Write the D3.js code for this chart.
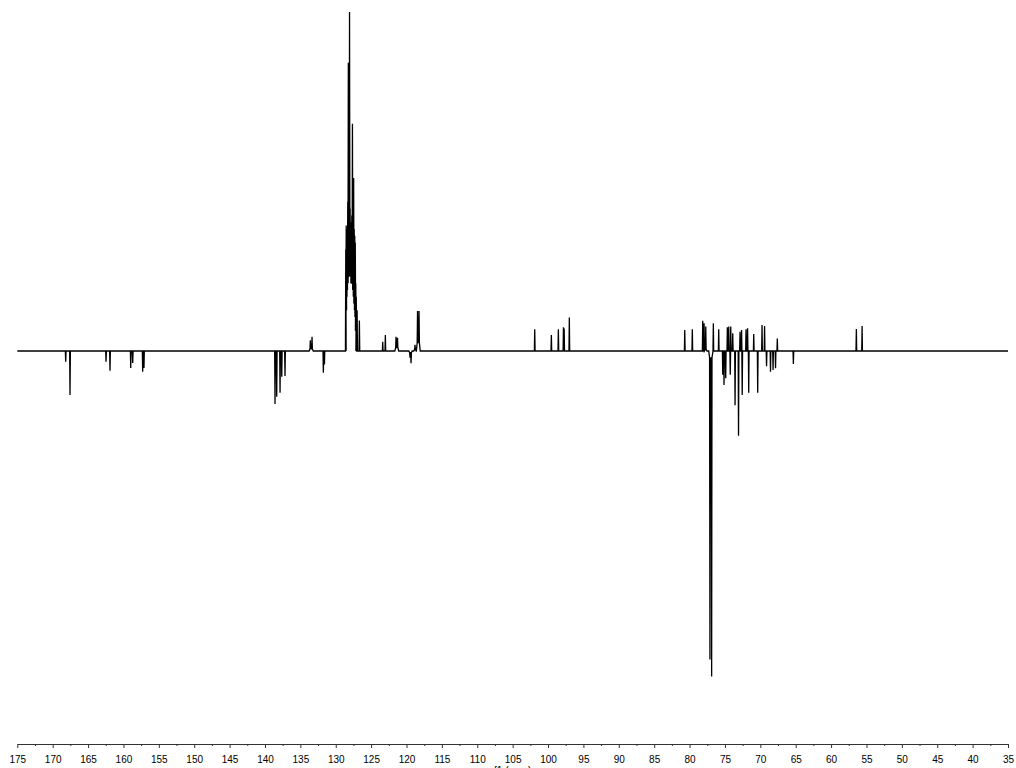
<!DOCTYPE html>
<html>
<head>
<meta charset="utf-8">
<script src="https://cdn.jsdelivr.net/npm/d3@7"></script>
<style>
  html, body { margin: 0; padding: 0; background: #fff; overflow: hidden; }
  svg { display: block; }
</style>
</head>
<body>
<svg id="chart" width="1016" height="768"></svg>
<script>
// Chemical-shift axis (ppm), labelled every 5 ppm with a minor tick in between.
const majorTicks = [175, 170, 165, 160, 155, 150, 145, 140, 135, 130, 125, 120, 115, 110,
                    105, 100, 95, 90, 85, 80, 75, 70, 65, 60, 55, 50, 45, 40, 35];
const minorTicks = [172.5, 167.5, 162.5, 157.5, 152.5, 147.5, 142.5, 137.5, 132.5, 127.5,
                    122.5, 117.5, 112.5, 107.5, 102.5, 97.5, 92.5, 87.5, 82.5, 77.5, 72.5,
                    67.5, 62.5, 57.5, 52.5, 47.5, 42.5, 37.5];
const axisTitle = "f1 (ppm)";

// Resonances: [shift (ppm), intensity, foot level]
const lowfieldPeaks = [
  [168.16, -3.2, 0], [167.55, -13, 0],
  [162.46, -3.2, 0], [161.90, -5.8, 0],
  [158.97, -5.0, 0], [158.69, -3.5, 0],
  [157.28, -6.1, 0], [157.10, -5.0, 0]
];
const aromaticPeaks = [
  [138.58, -15.6, 0], [138.34, -13.5, 0], [137.87, -12.3, 0],
  [137.63, -7.6, 0], [137.17, -7.4, 0],
  [133.59, 3.2, 0.6], [133.35, 4.2, 0.6],
  [131.75, -6.4, 0], [131.60, -4.0, 0]
];
const benzylCluster = [
  [128.58, 30, 0], [128.52, 37, 12], [128.46, 30, 16], [128.39, 36, 18], [128.30, 44, 20],
  [128.22, 85, 22], [128.14, 40, 22], [128.05, 100, 24], [127.97, 42, 24],
  [127.89, 38, 22], [127.81, 35, 20], [127.73, 40, 20], [127.64, 67, 20],
  [127.56, 36, 18], [127.47, 51, 16], [127.39, 36, 14], [127.31, 34, 12],
  [127.24, 32, 10], [127.17, 20, 6], [127.10, 16, 0], [126.98, 12, 0], [126.66, 9, 0]
];
const olefinicPeaks = [
  [123.36, 2.7, 0], [122.99, 4.7, 0],
  [121.48, 4.2, 1], [121.27, 3.9, 1],
  [119.50, -2.0, -0.5], [119.36, -3.6, -0.5],
  [118.80, 1.8, 0.5], [118.44, 11.8, 2.5], [118.23, 11.8, 2.5]
];
const anomericPeaks = [
  [101.88, 6.4, 0], [99.53, 4.7, 0], [98.54, 6.4, 0],
  [97.82, 7.0, 0], [97.72, 6.6, 0], [96.99, 9.9, 0]
];
const ringPeaks = [
  [80.68, 6.2, 0], [79.61, 6.4, 0],
  [78.14, 8.9, 0], [77.95, 8.2, 0], [77.71, 7.2, 0.5],
  [77.12, -91, -2], [76.88, -96, -2],
  [76.64, 8.2, 0], [75.88, 6.4, 0],
  [75.31, -7.0, 0], [75.13, -10, 0], [74.89, -8.0, 0],
  [74.66, 7.0, 0], [74.46, 7.2, 0], [74.25, -7.0, 0], [74.18, 7.2, 0],
  [73.90, 5.2, 0], [73.57, -16, 0], [73.08, -25, 0], [72.87, 5.7, 0],
  [72.65, 6.2, 0], [72.56, -13, 0], [72.02, 6.4, 0], [71.80, 6.7, 0],
  [71.64, -12.3, 0], [70.93, 5.0, 0], [70.37, -12.3, 0],
  [69.76, 7.7, 0], [69.40, 7.4, 0], [69.12, -4.5, 0],
  [68.56, -6.1, 0], [68.20, -5.6, 0], [67.85, -5.1, 0], [67.60, 3.7, 0],
  [65.33, -3.8, 0]
];
const methoxyPeaks = [
  [56.43, 6.5, 0], [55.62, 7.4, 0]
];

const peaks = [].concat(lowfieldPeaks, aromaticPeaks, benzylCluster, olefinicPeaks,
                        anomericPeaks, ringPeaks, methoxyPeaks)
  .sort((a, b) => b[0] - a[0]);

const svg = d3.select("#chart");

const x = d3.scaleLinear().domain([175, 35]).range([17.3, 1008]);
const y = d3.scaleLinear().domain([-100, 100]).range([690, 12]);

// Trace: flat baseline with a narrow line for each resonance; peaks that
// sit well apart drop back to the baseline between them.
const halfWidth = 0.05;
const settle = 0.12;
const trace = [[175, 0]];
peaks.forEach(([p, h, foot], i) => {
  const prev = peaks[i - 1];
  if (!prev || prev[0] - p > 0.35) trace.push([p + halfWidth + settle, 0]);
  trace.push([p + halfWidth, foot], [p, h], [p - halfWidth, foot]);
  const next = peaks[i + 1];
  if (!next || p - next[0] > 0.35) trace.push([p - halfWidth - settle, 0]);
});
trace.push([35, 0]);

svg.append("path")
  .datum(trace)
  .attr("fill", "none")
  .attr("stroke", "#000")
  .attr("stroke-width", 1.3)
  .attr("stroke-linejoin", "miter")
  .attr("d", d3.line().x(d => x(d[0])).y(d => y(d[1])));

// Axis
const axisY = 744;
const minorAxis = svg.append("g")
  .attr("transform", `translate(0,${axisY})`)
  .call(d3.axisBottom(x).tickValues(minorTicks).tickSize(2).tickSizeOuter(0).tickFormat(""));
minorAxis.select(".domain").remove();

const majorAxis = svg.append("g")
  .attr("transform", `translate(0,${axisY})`)
  .call(d3.axisBottom(x).tickValues(majorTicks).tickSize(4).tickSizeOuter(0).tickPadding(8)
        .tickFormat(d3.format("d")));

svg.selectAll(".tick line").attr("stroke", "#333");
majorAxis.select(".domain").attr("stroke", "#333");
majorAxis.selectAll("text")
  .attr("font-family", "Liberation Sans, Arial, sans-serif")
  .attr("font-size", 10)
  .attr("fill", "#000");

svg.append("text")
  .attr("x", x(105))
  .attr("y", 774)
  .attr("text-anchor", "middle")
  .attr("font-family", "Liberation Sans, Arial, sans-serif")
  .attr("font-size", 10)
  .attr("fill", "#000")
  .text(axisTitle);
</script>
</body>
</html>
